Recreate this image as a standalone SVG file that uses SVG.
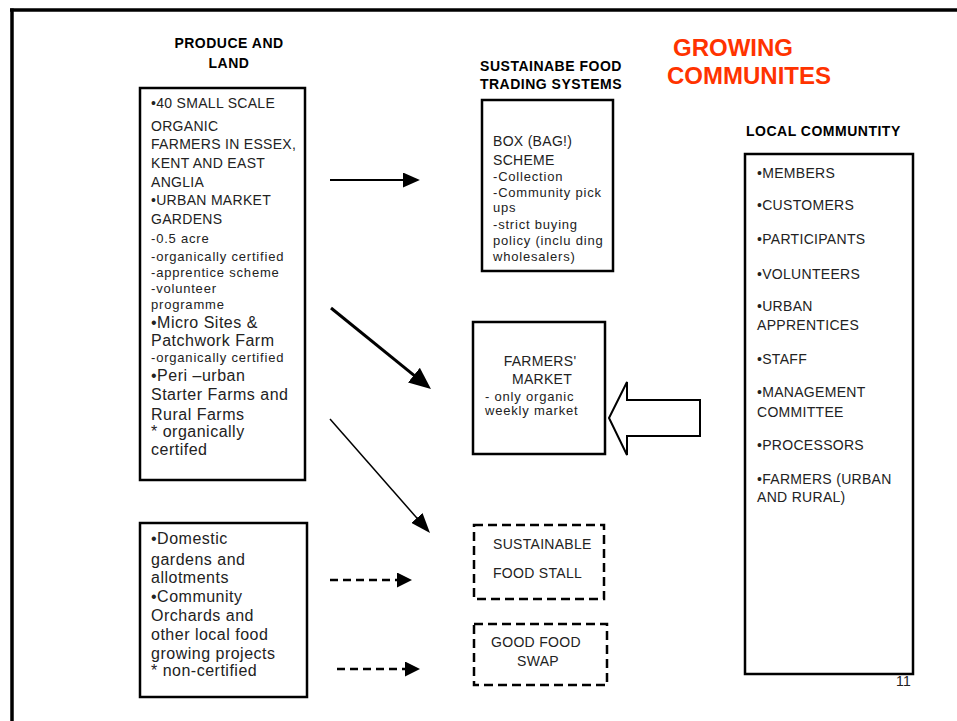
<svg xmlns="http://www.w3.org/2000/svg" width="957" height="721" viewBox="0 0 957 721">
<style>
text{font-family:"Liberation Sans",Arial,sans-serif;fill:#222}
.hd{font-size:14px;font-weight:bold;letter-spacing:0.5px;fill:#000}
.cap{font-size:14px;letter-spacing:0.3px}
.mx{font-size:16px;letter-spacing:0.5px}
.sm{font-size:13px;letter-spacing:0.8px}
.red{font-size:24px;font-weight:bold;fill:#FF3300}
.mid{text-anchor:middle}
.box{fill:#fff;stroke:#000;stroke-width:2.5}
.dbox{fill:#fff;stroke:#000;stroke-width:2.5;stroke-dasharray:9 5}
.ln{fill:none;stroke:#000}
</style>
<defs>
<marker id="m1" viewBox="0 0 10 10" refX="3" refY="5" markerWidth="17" markerHeight="15" markerUnits="userSpaceOnUse" orient="auto" preserveAspectRatio="none"><path d="M0,0 L10,5 L0,10 z" fill="#000"/></marker>
<marker id="m2" viewBox="0 0 10 10" refX="3" refY="5" markerWidth="22" markerHeight="19" markerUnits="userSpaceOnUse" orient="auto" preserveAspectRatio="none"><path d="M0,0 L10,5 L0,10 z" fill="#000"/></marker>
<marker id="m3" viewBox="0 0 10 10" refX="3" refY="5" markerWidth="20" markerHeight="15" markerUnits="userSpaceOnUse" orient="auto" preserveAspectRatio="none"><path d="M0,0 L10,5 L0,10 z" fill="#000"/></marker>
<marker id="m4" viewBox="0 0 10 10" refX="3" refY="5" markerWidth="15" markerHeight="15" markerUnits="userSpaceOnUse" orient="auto" preserveAspectRatio="none"><path d="M0,0 L10,5 L0,10 z" fill="#000"/></marker>
</defs>
<rect x="0" y="0" width="957" height="721" fill="#fff"/>
<g id="frame">
<line x1="10" y1="10" x2="957" y2="10" stroke="#000" stroke-width="3.5"/>
<line x1="12" y1="8.5" x2="12" y2="721" stroke="#000" stroke-width="3.5"/>
</g>
<g id="titles">
<text class="hd mid" x="229" y="48">PRODUCE AND</text>
<text class="hd mid" x="229" y="68">LAND</text>
<text class="hd mid" x="551" y="71">SUSTAINABE FOOD</text>
<text class="hd mid" x="551" y="89">TRADING SYSTEMS</text>
<text class="red" x="673" y="56">GROWING</text>
<text class="red" x="667" y="84">COMMUNITES</text>
<text class="hd" x="746" y="136">LOCAL COMMUNTITY</text>
<text class="cap" x="896" y="686">11</text>
</g>
<g id="produce-land">
<rect class="box" x="140" y="88" width="165" height="392"/>
<text class="cap" x="151" y="108">•40 SMALL SCALE</text>
<text class="cap" x="151" y="131">ORGANIC</text>
<text class="cap" x="151" y="149">FARMERS IN ESSEX,</text>
<text class="cap" x="151" y="168">KENT AND EAST</text>
<text class="cap" x="151" y="187">ANGLIA</text>
<text class="cap" x="151" y="205">•URBAN MARKET</text>
<text class="cap" x="151" y="224">GARDENS</text>
<text class="sm" x="151" y="243">-0.5 acre</text>
<text class="sm" x="151" y="261">-organically certified</text>
<text class="sm" x="151" y="277">-apprentice scheme</text>
<text class="sm" x="151" y="293">-volunteer</text>
<text class="sm" x="151" y="309">programme</text>
<text class="mx" x="151" y="328">•Micro Sites &amp;</text>
<text class="mx" x="151" y="346">Patchwork Farm</text>
<text class="sm" x="151" y="362">-organically certified</text>
<text class="mx" x="151" y="381">•Peri –urban</text>
<text class="mx" x="151" y="400">Starter Farms and</text>
<text class="mx" x="151" y="420">Rural Farms</text>
<text class="mx" x="151" y="437">* organically</text>
<text class="mx" x="151" y="455">certifed</text>
</g>
<g id="domestic">
<rect class="box" x="140" y="523" width="167" height="174"/>
<text class="mx" x="151" y="544">•Domestic</text>
<text class="mx" x="151" y="565">gardens and</text>
<text class="mx" x="151" y="583">allotments</text>
<text class="mx" x="151" y="602">•Community</text>
<text class="mx" x="151" y="621">Orchards and</text>
<text class="mx" x="151" y="640">other local food</text>
<text class="mx" x="151" y="659">growing projects</text>
<text class="mx" x="151" y="676">* non-certified</text>
</g>
<g id="box-scheme">
<rect class="box" x="482" y="100" width="131" height="171"/>
<text class="cap" x="493" y="146">BOX (BAG!)</text>
<text class="cap" x="493" y="165">SCHEME</text>
<text class="sm" x="493" y="181">-Collection</text>
<text class="sm" x="493" y="197">-Community pick</text>
<text class="sm" x="493" y="212">ups</text>
<text class="sm" x="493" y="229">-strict buying</text>
<text class="sm" x="493" y="245">policy (inclu ding</text>
<text class="sm" x="493" y="261">wholesalers)</text>
</g>
<g id="farmers-market">
<rect class="box" x="473" y="322" width="132" height="132"/>
<text class="cap mid" x="540" y="366">FARMERS'</text>
<text class="cap mid" x="542" y="384">MARKET</text>
<text class="sm" x="485" y="401">- only organic</text>
<text class="sm" x="485" y="415">weekly market</text>
</g>
<g id="food-stall">
<rect class="dbox" x="474" y="525" width="130" height="74"/>
<text class="cap" x="493" y="549">SUSTAINABLE</text>
<text class="cap" x="493" y="578">FOOD STALL</text>
</g>
<g id="food-swap">
<rect class="dbox" x="474" y="624" width="133" height="61"/>
<text class="cap" x="491" y="647">GOOD FOOD</text>
<text class="cap mid" x="538" y="666">SWAP</text>
</g>
<g id="local-community">
<rect class="box" x="745" y="154" width="168" height="520"/>
<text class="cap" x="757" y="178">•MEMBERS</text>
<text class="cap" x="757" y="210">•CUSTOMERS</text>
<text class="cap" x="757" y="244">•PARTICIPANTS</text>
<text class="cap" x="757" y="279">•VOLUNTEERS</text>
<text class="cap" x="757" y="311">•URBAN</text>
<text class="cap" x="757" y="330">APPRENTICES</text>
<text class="cap" x="757" y="364">•STAFF</text>
<text class="cap" x="757" y="397">•MANAGEMENT</text>
<text class="cap" x="757" y="417">COMMITTEE</text>
<text class="cap" x="757" y="450">•PROCESSORS</text>
<text class="cap" x="757" y="484">•FARMERS (URBAN</text>
<text class="cap" x="757" y="502">AND RURAL)</text>
</g>
<g id="connectors">
<line class="ln" x1="330" y1="180" x2="408" y2="180" stroke-width="2" marker-end="url(#m1)"/>
<line class="ln" x1="331" y1="308" x2="419" y2="379.3" stroke-width="3" marker-end="url(#m2)"/>
<line class="ln" x1="330" y1="419" x2="420.8" y2="522.5" stroke-width="1.5" marker-end="url(#m3)"/>
<line class="ln" x1="330" y1="580" x2="401.5" y2="580" stroke-width="2.5" stroke-dasharray="8 5" marker-end="url(#m4)"/>
<line class="ln" x1="337" y1="669" x2="409.5" y2="669" stroke-width="2.5" stroke-dasharray="8 5" marker-end="url(#m4)"/>
<polygon points="609,418 627,382 627,400 700,400 700,436 627,436 627,455" fill="#fff" stroke="#000" stroke-width="2"/>
</g>
</svg>
